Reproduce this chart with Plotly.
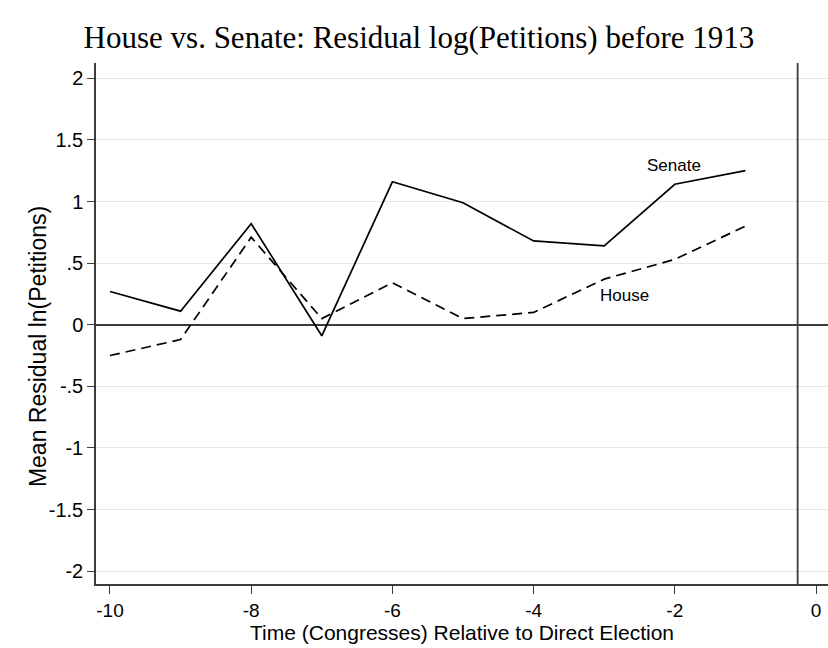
import plotly.graph_objects as go

# Congresses relative to the switch to direct election of senators
congress = [-10, -9, -8, -7, -6, -5, -4, -3, -2, -1]
senate_resid = [0.27, 0.11, 0.82, -0.09, 1.16, 0.99, 0.68, 0.64, 1.14, 1.25]
house_resid = [-0.25, -0.12, 0.71, 0.05, 0.34, 0.05, 0.10, 0.37, 0.53, 0.80]

x_ticks = [-10, -8, -6, -4, -2, 0]
y_ticks = [2, 1.5, 1, 0.5, 0, -0.5, -1, -1.5, -2]
y_tick_text = ["2", "1.5", "1", ".5", "0", "-.5", "-1", "-1.5", "-2"]
election_line = -0.26

SANS = "Liberation Sans, Arial, Helvetica, sans-serif"
SERIF = "Liberation Serif, Times New Roman, serif"
AXIS_COLOR = "#3c3c3c"

fig = go.Figure()
fig.add_trace(go.Scatter(
    x=congress, y=senate_resid, mode="lines", name="Senate",
    line=dict(color="black", width=1.7),
))
fig.add_trace(go.Scatter(
    x=congress, y=house_resid, mode="lines", name="House",
    line=dict(color="black", width=1.7, dash="10px,6px"),
))

# vertical reference line at the election
fig.add_shape(type="line", xref="x", yref="paper",
              x0=election_line, x1=election_line, y0=0, y1=1,
              line=dict(color=AXIS_COLOR, width=1.8), layer="above")

fig.add_annotation(x=-2.01, y=1.29, text="Senate", showarrow=False,
                   font=dict(family=SANS, size=17, color="black"))
fig.add_annotation(x=-2.71, y=0.24, text="House", showarrow=False,
                   font=dict(family=SANS, size=17, color="black"))

# axis titles
fig.add_annotation(xref="paper", yref="paper", x=0.5, y=-0.094,
                   xanchor="center", yanchor="middle", showarrow=False,
                   text="Time (Congresses) Relative to Direct Election",
                   font=dict(family=SANS, size=21, color="black"))
fig.add_annotation(xref="paper", yref="paper", x=-0.079, y=0.455,
                   xanchor="center", yanchor="middle", showarrow=False,
                   textangle=-90, text="Mean Residual ln(Petitions)",
                   font=dict(family=SANS, size=23, color="black"))

fig.update_layout(
    width=828, height=648,
    margin=dict(l=96, r=0, t=63, b=64, pad=0),
    paper_bgcolor="white", plot_bgcolor="white",
    showlegend=False,
    title=dict(text="House vs. Senate: Residual log(Petitions) before 1913",
               x=0.506, xanchor="center", y=1 - 37 / 648, yanchor="middle",
               font=dict(family=SERIF, size=31, color="black")),
    xaxis=dict(
        range=[-10.198, 0.17], tickmode="array", tickvals=x_ticks,
        ticktext=[str(v) for v in x_ticks],
        showgrid=False, zeroline=False,
        showline=True, linecolor=AXIS_COLOR, linewidth=1.5,
        ticks="outside", ticklen=8, tickwidth=1.2, tickcolor=AXIS_COLOR,
        tickfont=dict(family=SANS, size=19, color="black"),
    ),
    yaxis=dict(
        range=[-2.104, 2.124], tickmode="array", tickvals=y_ticks,
        ticktext=y_tick_text,
        showgrid=True, gridcolor="#e6e6e6", gridwidth=1.3,
        zeroline=True, zerolinecolor=AXIS_COLOR, zerolinewidth=1.6,
        showline=True, linecolor=AXIS_COLOR, linewidth=1.5,
        ticks="outside", ticklen=7, tickwidth=1.2, tickcolor=AXIS_COLOR,
        tickfont=dict(family=SANS, size=20, color="black"),
    ),
)

fig.write_html("out.html")
